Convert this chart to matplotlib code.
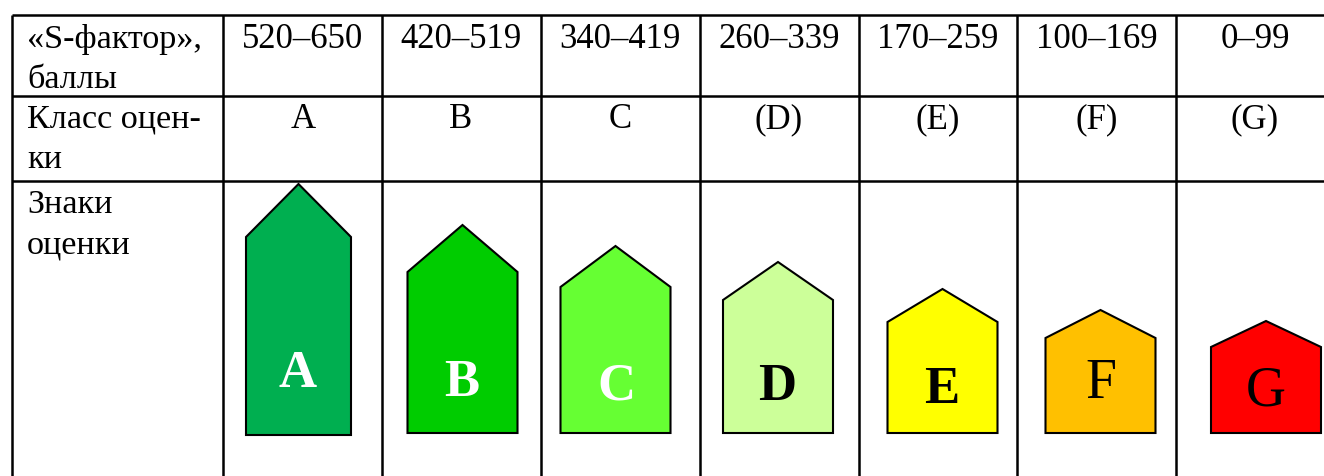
import matplotlib
matplotlib.use('Agg')
import matplotlib.pyplot as plt
from matplotlib.patches import Polygon

plt.rcParams['font.family'] = ['Liberation Serif', 'DejaVu Serif']

# Table content
score_ranges = ['520–650', '420–519', '340–419', '260–339', '170–259', '100–169', '0–99']
class_labels = ['A', 'B', 'C', '(D)', '(E)', '(F)', '(G)']
sign_letters = ['A', 'B', 'C', 'D', 'E', 'F', 'G']
row_titles = ['«S-фактор»,\nбаллы', 'Класс оцен-\nки', 'Знаки\nоценки']

# Signs (heights in pixels)
sign_colors = ['#00AF50', '#00CC00', '#66FF33', '#CCFF99', '#FFFF00', '#FFC000', '#FF0000']
sign_heights = [251, 208, 187, 171, 144, 123, 112]
roof_heights = [53, 47, 41, 38, 33, 28, 26]
sign_widths = [105, 110, 110, 110, 110, 110, 110]
sign_centers = [298.5, 462.5, 615.5, 778, 942.5, 1100.5, 1266]
sign_bottoms = [435, 433, 433, 433, 433, 433, 433]

letter_colors = ['white', 'white', 'white', 'black', 'black', 'black', 'black']
letter_weights = ['bold', 'bold', 'bold', 'bold', 'bold', 'normal', 'normal']
letter_sizes = [38, 38, 38, 38, 38, 40, 40]
letter_baselines = [387, 396, 399, 400, 403, 398, 406]
letter_centers = [298, 462, 616, 777, 942, 1101, 1266]

# Table grid
col_edges = [12, 223, 382, 541, 700, 859, 1017, 1176]
row_edges = [15, 96, 181]
text_centers = [303, 461, 620, 779, 938, 1097, 1255]
W, H = 1324, 476

fig = plt.figure(figsize=(W / 100, H / 100), dpi=100)
ax = fig.add_axes([0, 0, 1, 1])
ax.set_xlim(0, W)
ax.set_ylim(H, 0)
ax.axis('off')

for x in col_edges:
    ax.plot([x, x], [row_edges[0], H], color='black', lw=1.8, solid_capstyle='butt')
for y in row_edges:
    ax.plot([col_edges[0], W], [y, y], color='black', lw=1.8, solid_capstyle='butt')

# Left column, one text per line would drift so keep the line spacing fixed
title_baselines = [48, 128, 213]
for title, y in zip(row_titles, title_baselines):
    for i, line in enumerate(title.split('\n')):
        ax.text(27, y + i * 40, line, fontsize=24.6, ha='left', va='baseline')

for x, rng, cls in zip(text_centers, score_ranges, class_labels):
    ax.text(x, 48, rng, fontsize=25, ha='center', va='baseline')
    ax.text(x, 128, cls, fontsize=25, ha='center', va='baseline')

# Signs
for i in range(len(sign_letters)):
    cx = sign_centers[i]
    half = sign_widths[i] / 2
    bottom = sign_bottoms[i]
    top = bottom - sign_heights[i]
    shoulder = top + roof_heights[i]
    pts = [(cx - half, bottom), (cx - half, shoulder), (cx, top),
           (cx + half, shoulder), (cx + half, bottom)]
    ax.add_patch(Polygon(pts, closed=True, facecolor=sign_colors[i],
                         edgecolor='black', lw=1.5, joinstyle='miter'))
    ax.text(letter_centers[i], letter_baselines[i], sign_letters[i], fontsize=letter_sizes[i],
            color=letter_colors[i], fontweight=letter_weights[i],
            ha='center', va='baseline')

fig.savefig('out.png', dpi=100, facecolor='white')
